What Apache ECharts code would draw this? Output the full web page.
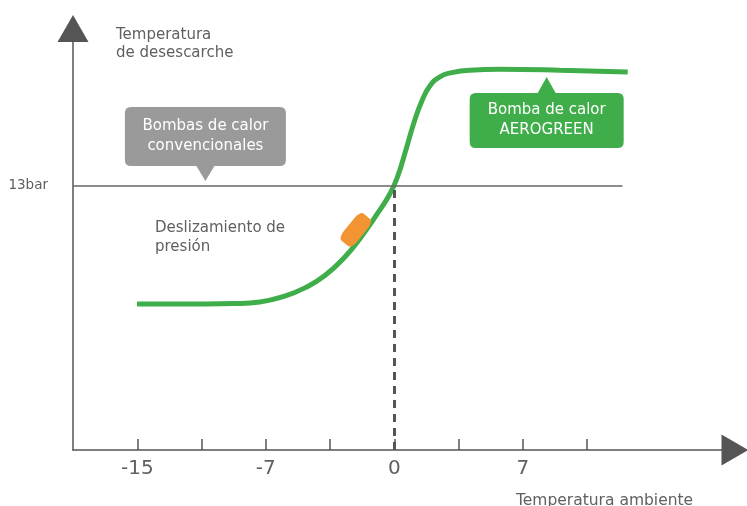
<!DOCTYPE html>
<html><head><meta charset="utf-8">
<script src="https://cdn.jsdelivr.net/npm/echarts@6/dist/echarts.min.js"></script>
<style>html,body{margin:0;padding:0;background:#fff}#c{width:747px;height:506px}</style>
</head><body><div id="c"></div>
<script>
// Tick positions along the ambient-temperature axis (equally spaced steps)
const tickPositions = [1, 2, 3, 4, 5, 6, 7, 8];
const tickLabels = ['-15', '', '-7', '', '0', '', '7', ''];
// AEROGREEN discharge-temperature curve (x in tick steps, y in bar-like units)
const curveX = [0.995, 1.509, 2.053, 2.519, 2.908, 3.297, 3.608, 3.919, 4.230, 4.495, 4.743, 4.930, 5.054, 5.179, 5.303, 5.428, 5.552, 5.708, 5.894, 6.174, 6.641, 7.574, 8.631];
const curveY = [7.19, 7.19, 7.19, 7.21, 7.29, 7.58, 7.98, 8.59, 9.50, 10.54, 11.67, 12.60, 13.49, 14.77, 16.10, 17.18, 17.92, 18.37, 18.58, 18.70, 18.74, 18.70, 18.61];
// Conventional heat pumps level
const levelValue = 13;
const levelLabel = '13bar';
const levelEndX = 8.55;
const crossX = 5;
const texts = {
  yName: 'Temperatura\nde desescarche',
  xName: 'Temperatura ambiente',
  slide: 'Deslizamiento de\npresión',
  conv: 'Bombas de calor\nconvencionales',
  aero: 'Bomba de calor\nAEROGREEN'
};

const FONT = 'DejaVu Sans';
const TXT = '#606060';
const curveData = curveX.map((x, i) => [x, curveY[i]]);

const grayPath = 'path://M6,0L155,0Q161,0 161,6L161,53Q161,59 155,59L89.5,59L80.5,74L71.5,59L6,59Q0,59 0,53L0,6Q0,0 6,0Z';
const greenPath = 'path://M77,0L86,16L148,16Q154,16 154,22L154,65Q154,71 148,71L6,71Q0,71 0,65L0,22Q0,16 6,16L68,16Z';

const chart = echarts.init(document.getElementById('c'), null, {renderer: 'canvas'});
chart.setOption({
  animation: false,
  backgroundColor: '#fff',
  textStyle: {fontFamily: FONT},
  title: [
    {text: texts.yName, left: 111, top: 21, textStyle: {fontFamily: FONT, fontSize: 15, fontWeight: 'normal', color: TXT, lineHeight: 18}},
    {text: texts.slide, left: 150, top: 214, textStyle: {fontFamily: FONT, fontSize: 15, fontWeight: 'normal', color: TXT, lineHeight: 19}},
    {text: texts.xName, left: 511, top: 488, textStyle: {fontFamily: FONT, fontSize: 15.5, fontWeight: 'normal', color: TXT}}
  ],
  grid: {left: 73, right: 12, top: 28.5, bottom: 56, containLabel: false},
  xAxis: {
    type: 'value', min: 0, max: 10.3,
    splitLine: {show: false},
    axisLine: {show: true, onZero: false, lineStyle: {color: '#555', width: 1.5}, symbol: ['none', 'triangle'], symbolSize: [31, 27]},
    axisTick: {show: true, inside: true, length: 11, customValues: tickPositions, lineStyle: {color: '#555', width: 1.5}},
    axisLabel: {show: true, customValues: tickPositions, margin: 9, fontSize: 20, color: TXT, fontFamily: FONT,
      formatter: v => { const i = tickPositions.indexOf(v); return i >= 0 ? tickLabels[i] : ''; }}
  },
  yAxis: {
    type: 'value', min: 0, max: 20.75,
    splitLine: {show: false},
    axisLine: {show: true, onZero: false, lineStyle: {color: '#555', width: 1.5}, symbol: ['none', 'triangle'], symbolSize: [31, 27]},
    axisTick: {show: false},
    axisLabel: {show: true, customValues: [levelValue], margin: 25, fontSize: 13.5, color: TXT, fontFamily: FONT,
      formatter: v => v === levelValue ? levelLabel : ''}
  },
  series: [
    {
      type: 'line', z: 1, data: [], silent: true,
      markLine: {
        silent: true, symbol: ['none', 'none'], label: {show: false},
        data: [
          [{coord: [0, levelValue], lineStyle: {color: '#666', width: 1.5, type: 'solid'}}, {coord: [levelEndX, levelValue]}],
          [{coord: [crossX, 0], lineStyle: {color: '#555', width: 3, type: [8, 6]}}, {coord: [crossX, levelValue]}]
        ]
      }
    },
    {
      type: 'line', z: 2, data: [], silent: true,
      markPoint: {
        silent: true,
        data: [
          {coord: [4.40, 10.84], symbol: 'roundRect', symbolSize: [35, 17], symbolRotate: 51, itemStyle: {color: '#F29432'}, label: {show: false}},
          {coord: [2.06, 15.07], symbol: grayPath, symbolSize: [161, 74], symbolKeepAspect: false, itemStyle: {color: '#9a9a9a'},
            label: {show: true, position: 'inside', offset: [0, -7.5], formatter: texts.conv, color: '#fff', fontSize: 15, lineHeight: 20, fontFamily: FONT}},
          {coord: [7.37, 16.62], symbol: greenPath, symbolSize: [154, 71], symbolKeepAspect: false, itemStyle: {color: '#3FAE4A'},
            label: {show: true, position: 'inside', offset: [0, 8], formatter: texts.aero, color: '#fff', fontSize: 15, lineHeight: 20, fontFamily: FONT}}
        ]
      }
    },
    {
      type: 'line', z: 3, data: curveData, smooth: 0.5, showSymbol: false, silent: true,
      lineStyle: {color: '#3FAE4A', width: 5}
    }
  ]
});
</script></body></html>
